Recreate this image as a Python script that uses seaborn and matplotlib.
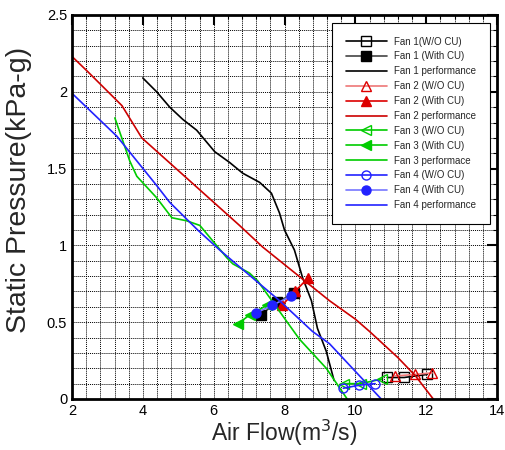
import matplotlib
matplotlib.use("Agg")
import matplotlib.pyplot as plt
import seaborn as sns
import numpy as np
from matplotlib.ticker import MultipleLocator

sns.set_style("white")
plt.rcParams['font.family'] = ['Liberation Sans', 'DejaVu Sans']

# Performance curves
fan1_perf_x = [4.0, 4.39, 4.76, 5.13, 5.52, 6.03, 6.45, 6.82, 7.3, 7.63, 7.86, 8.0, 8.28, 8.51, 8.76, 8.93, 9.18, 9.4]
fan1_perf_y = [2.09, 2.0, 1.90, 1.82, 1.75, 1.61, 1.54, 1.47, 1.41, 1.34, 1.21, 1.10, 0.97, 0.79, 0.64, 0.46, 0.31, 0.12]
fan2_perf_x = [2.0, 2.45, 3.41, 3.97, 6.73, 7.38, 9.27, 10.0, 10.4, 11.2, 11.7, 12.2]
fan2_perf_y = [2.23, 2.13, 1.91, 1.70, 1.13, 0.99, 0.64, 0.52, 0.44, 0.27, 0.15, 0.0]
fan3_perf_x = [3.21, 3.63, 3.83, 4.39, 4.82, 5.24, 5.61, 6.37, 6.54, 7.01, 7.24, 8.42, 9.18, 9.77]
fan3_perf_y = [1.83, 1.55, 1.45, 1.31, 1.18, 1.16, 1.13, 0.92, 0.88, 0.82, 0.77, 0.39, 0.20, 0.0]
fan4_perf_x = [2.0, 3.27, 4.39, 4.76, 5.55, 6.17, 7.86, 8.79, 9.27, 10.73]
fan4_perf_y = [1.99, 1.71, 1.39, 1.28, 1.10, 0.97, 0.64, 0.44, 0.36, 0.0]

# Operating points without CU
fan1_wo_x = [10.9, 11.38, 12.03]
fan1_wo_y = [0.14, 0.14, 0.16]
fan2_wo_x = [11.12, 11.69, 12.17]
fan2_wo_y = [0.15, 0.16, 0.17]
fan3_wo_x = [9.69, 10.15, 10.75]
fan3_wo_y = [0.10, 0.10, 0.13]
fan4_wo_x = [9.66, 10.11, 10.56]
fan4_wo_y = [0.07, 0.09, 0.10]

# Operating points with CU
fan1_w_x = [7.34, 7.79, 8.27]
fan1_w_y = [0.55, 0.63, 0.69]
fan2_w_x = [7.93, 8.30, 8.67]
fan2_w_y = [0.61, 0.70, 0.79]
fan3_w_x = [6.69, 7.03, 7.51]
fan3_w_y = [0.49, 0.55, 0.61]
fan4_w_x = [7.20, 7.65, 8.19]
fan4_w_y = [0.56, 0.61, 0.67]

x_ticks = [2, 4, 6, 8, 10, 12, 14]
y_ticks = [0, 0.5, 1, 1.5, 2, 2.5]
y_tick_labels = ["0", "0.5", "1", "1.5", "2", "2.5"]

fig = plt.figure(figsize=(5.05, 4.5), dpi=100)
ax = fig.add_axes([72/505, 1-399/450, (497-72)/505, (399-15)/450])

black = "#000000"
red = "#dd0000"
green = "#00cc00"
blue = "#2222ff"

series = [
    (fan1_wo_x, fan1_wo_y, "Fan 1(W/O CU)", black, "s", "none", black),
    (fan1_w_x, fan1_w_y, "Fan 1 (With CU)", "#444444", "s", black, black),
    (fan1_perf_x, fan1_perf_y, "Fan 1 performance", black, None, None, None),
    (fan2_wo_x, fan2_wo_y, "Fan 2 (W/O CU)", "#ee7777", "^", "none", red),
    (fan2_w_x, fan2_w_y, "Fan 2 (With CU)", red, "^", red, red),
    (fan2_perf_x, fan2_perf_y, "Fan 2 performance", "#cc0000", None, None, None),
    (fan3_wo_x, fan3_wo_y, "Fan 3 (W/O CU)", green, "<", "none", green),
    (fan3_w_x, fan3_w_y, "Fan 3 (With CU)", green, "<", green, green),
    (fan3_perf_x, fan3_perf_y, "Fan 3 performace", green, None, None, None),
    (fan4_wo_x, fan4_wo_y, "Fan 4 (W/O CU)", blue, "o", "none", blue),
    (fan4_w_x, fan4_w_y, "Fan 4 (With CU)", "#7777ff", "o", blue, blue),
    (fan4_perf_x, fan4_perf_y, "Fan 4 performance", blue, None, None, None),
]

for xs, ys, lab, lc, mk, mfc, mec in series:
    kw = dict(x=xs, y=ys, ax=ax, sort=False, estimator=None, color=lc, label=lab, linewidth=1.2)
    if mk is not None:
        kw.update(marker=mk, markersize=6.5, markerfacecolor=mfc, markeredgecolor=mec, markeredgewidth=1.0)
    sns.lineplot(**kw)

ax.set_xlim(2, 14)
ax.set_ylim(0, 2.5)
ax.set_xticks(x_ticks)
ax.set_yticks(y_ticks)
ax.set_yticklabels(y_tick_labels)
ax.xaxis.set_minor_locator(MultipleLocator(0.4))
ax.yaxis.set_minor_locator(MultipleLocator(0.1))
ax.grid(True, which='both', linestyle=(0, (1, 1)), color='black', linewidth=0.7)
ax.set_axisbelow(True)
ax.tick_params(which='both', direction='in', top=True, right=True, labelsize=10.5, colors='black')
ax.tick_params(which='major', length=7, width=1.5)
ax.tick_params(which='minor', length=3, width=0.8)
for sp in ax.spines.values():
    sp.set_linewidth(2)
    sp.set_color('black')

ax.set_xlabel("Air Flow(m$^3$/s)", fontsize=16.5, labelpad=0)
ax.set_ylabel("Static Pressure(kPa-g)", fontsize=20.5)
ax.yaxis.set_label_coords(-0.095, 0.545)

leg = ax.legend(loc='upper right', bbox_to_anchor=(490/505, 1-23/450), bbox_transform=fig.transFigure,
                fontsize=7, handlelength=4.2, handletextpad=0.8, frameon=True, fancybox=False,
                borderpad=1.4, labelspacing=0.5, borderaxespad=0)
leg.get_frame().set_edgecolor('black')
leg.get_frame().set_linewidth(0.8)
leg.get_frame().set_alpha(1)

fig.savefig("out.png", dpi=100)
